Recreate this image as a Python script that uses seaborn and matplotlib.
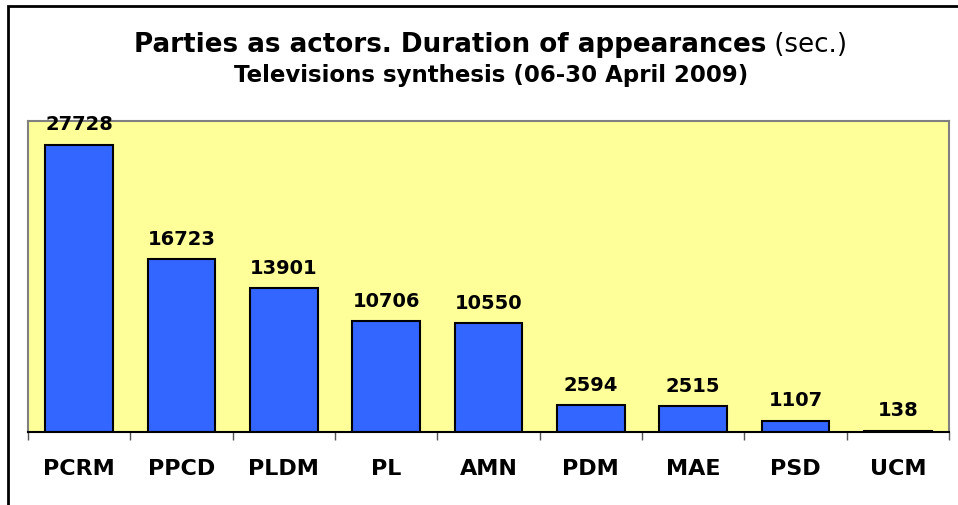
import matplotlib
matplotlib.use("Agg")
import matplotlib.pyplot as plt
import seaborn as sns
import pandas as pd
from matplotlib.patches import Rectangle
from matplotlib.ticker import FixedLocator

categories = ["PCRM", "PPCD", "PLDM", "PL", "AMN", "PDM", "MAE", "PSD", "UCM"]
values = [27728, 16723, 13901, 10706, 10550, 2594, 2515, 1107, 138]

sns.set_style("white")
plt.rcParams['font.family'] = ['DejaVu Sans']
plt.rcParams['text.color'] = 'black'
plt.rcParams['xtick.color'] = 'black'
plt.rcParams['xtick.labelcolor'] = 'black'

W, H = 958, 506
fig = plt.figure(figsize=(W / 100, H / 100), dpi=100)
ax = fig.add_axes([28 / W, 1 - 433 / H, (949 - 28) / W, (433 - 122) / H])

df = pd.DataFrame({"party": categories, "sec": values})
sns.barplot(data=df, x="party", y="sec", color="#3366FF", saturation=1,
            edgecolor="black", linewidth=1.5, width=0.66, ax=ax)

ax.set_facecolor("#FFFF99")
ax.set_ylim(0, 30000)
ax.set_xlim(-0.5, len(categories) - 0.5)
ax.set_yticks([])
ax.set_xlabel("")
ax.set_ylabel("")

for name, sp in ax.spines.items():
    sp.set_visible(True)
    sp.set_color("#808080")
    sp.set_linewidth(1.5)
ax.spines["bottom"].set_color("black")

ax.xaxis.set_minor_locator(FixedLocator([i - 0.5 for i in range(len(categories) + 1)]))
ax.tick_params(axis="x", which="minor", bottom=True, length=6, width=1,
               color="#555555", direction="out")
ax.tick_params(axis="x", which="major", bottom=True, length=0, pad=19, labelsize=16,
               labelcolor="black")
for lbl in ax.get_xticklabels():
    lbl.set_fontweight("bold")

for i, v in enumerate(values):
    ax.annotate(f"{v}", (i, v), xytext=(0, 8), textcoords="offset points",
                ha="center", va="bottom", fontsize=14, fontweight="bold", color="black")

# title
jx = 766 / W
fig.text(jx, 1 - 52 / H, "Parties as actors. Duration of appearances", ha="right",
         va="baseline", fontsize=18.8, fontweight="bold", color="black")
fig.text(jx, 1 - 52 / H, " (sec.)", ha="left", va="baseline", fontsize=18.8, color="black")
fig.text(491 / W, 1 - 82 / H, "Televisions synthesis (06-30 April 2009)", ha="center",
         va="baseline", fontsize=16.5, fontweight="bold", color="black")

# outer frame
fig.patches.append(Rectangle((8 / W, -0.1), 1.2, 1.1 - 7 / H, transform=fig.transFigure,
                             fill=False, edgecolor="black", linewidth=2, zorder=10))

fig.savefig("out.png", dpi=100)
